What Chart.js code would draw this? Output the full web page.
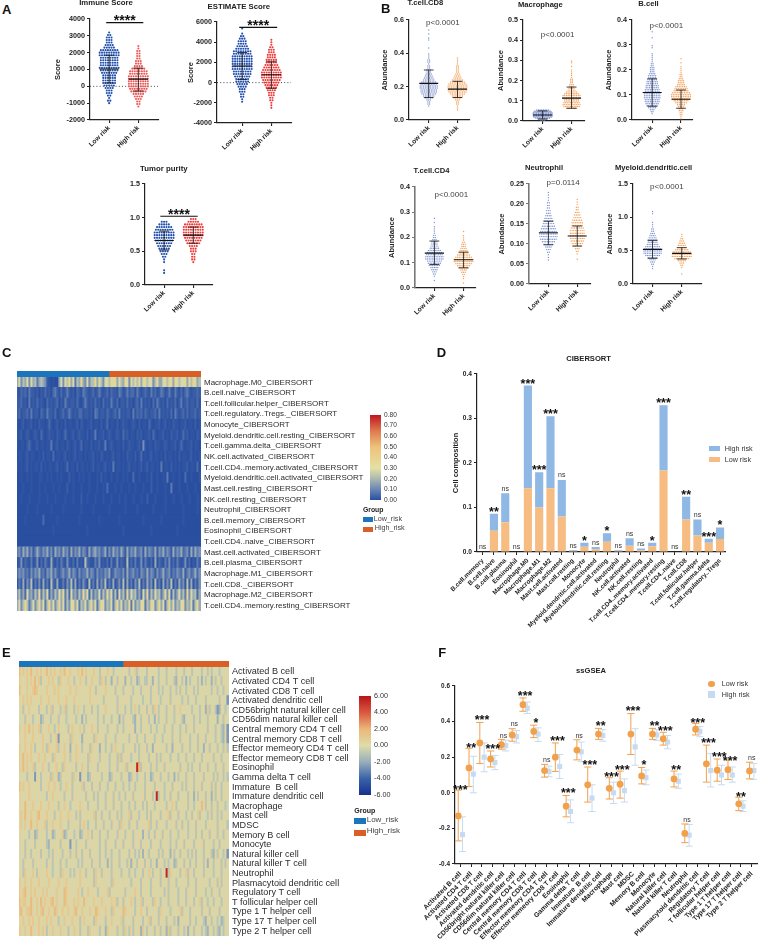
<!DOCTYPE html>
<html>
<head>
<meta charset="utf-8">
<title>Immune landscape</title>
<script src="https://cdn.jsdelivr.net/npm/chart.js@4"></script>
<style>
body{margin:0;background:#fff}
#page{position:relative;width:760px;height:942px;overflow:hidden;font-family:"Liberation Sans",Arial,sans-serif}
canvas{position:absolute}
.t{position:absolute;white-space:nowrap;line-height:1;color:#222}
.s{position:absolute}
</style>
</head>
<body>
<div id="page"></div>
<script>
const groups = ["Low risk","High risk"];

// swarm rows: how many dots sit in each value row
const immuneLow = [1,2,1,2,3,3,4,5,6,6,6,6,7,8,9,8,8,8,8,9,9,8,5,4,3,3,3,2,1];
const immuneHigh = [1,2,2,3,4,5,7,8,9,9,9,9,9,8,8,6,4,3,3,2,2,2,2,1,1];
const estimateLow = [1,1,2,2,3,3,4,5,6,6,7,8,8,9,9,9,9,9,9,8,8,6,5,4,4,3,2,1,0,1];
const estimateHigh = [1,1,1,2,2,3,3,4,5,6,7,8,9,9,9,8,7,6,5,5,4,4,3,3,2,1,1,1];
const purityLow = [1,1,0,0,1,1,2,3,4,5,6,7,8,9,9,9,8,7,5,3];
const purityHigh = [1,2,2,2,3,3,4,6,7,8,9,9,9,9,8,5,3];
const cd8Low = [1,2,2,3,5,7,9,10,10,11,11,10,9,7,6,5,4,3,3,2,2,1,2,2,1,1,1,0,0,1,0,0,0,1,1,0,1,0,1];
const cd8High = [1,1,1,2,2,3,5,7,9,11,12,12,12,11,9,7,5,4,3,2,2,2,2,1,1,1,1];
const macroLow = [3,6,9,11,12,12,12,12,12,11,10,8];
const macroHigh = [7,10,11,10,9,9,11,11,9,7,5,4,3,3,2,2,2,1,1,1,1,1,0,1,0,1,1];
const bcellLow = [1,2,3,5,7,8,9,9,10,10,10,9,9,8,8,7,7,6,5,5,4,3,3,3,2,2,1,1,1,1,1,0,0,1,1,0,0,0,1,0,0,1];
const bcellHigh = [1,1,2,2,3,3,4,5,7,9,11,12,12,11,9,8,7,5,4,4,3,2,2,1,1,1,1,0,1,0,1];
const cd4Low = [1,0,1,2,3,4,5,7,8,9,11,11,10,9,8,6,5,4,4,3,2,2,1,1,1,1,0,1,0,1];
const cd4High = [1,0,1,1,2,3,4,6,8,10,12,12,10,8,6,5,4,3,3,2,1,1,1,0,1];
const neutLow = [1,1,1,2,3,4,6,8,10,11,11,10,9,8,7,6,5,4,3,3,2,2,2,1,1,1,1];
const neutHigh = [1,0,1,2,3,5,7,8,9,9,9,9,8,7,7,6,5,4,3,2,2,1,1,1];
const myeloidLow = [1,1,2,3,4,6,9,11,11,10,9,7,6,6,5,4,3,2,2,1,1,1,0,0,0,1,1];
const myeloidHigh = [1,0,0,1,2,3,5,9,12,12,11,8,6,5,4,3,2,1,1];

// mean, lower and upper whisker of each swarm
const immuneStats = [[1030,200,1850],[430,-280,1080]];
const estimateStats = [[1650,300,2980],[770,-570,2060]];
const purityStats = [[0.66,0.52,0.8],[0.74,0.62,0.86]];
const cd8Stats = [[0.22,0.135,0.3],[0.185,0.135,0.232]];
const macroStats = [[0.03,0.01,0.05],[0.113,0.063,0.168]];
const bcellStats = [[0.11,0.055,0.165],[0.083,0.047,0.12]];
const cd4Stats = [[0.138,0.093,0.186],[0.112,0.08,0.142]];
const neutStats = [[0.128,0.098,0.157],[0.12,0.095,0.145]];
const myeloidStats = [[0.52,0.385,0.655],[0.46,0.375,0.545]];

// panel D
const dNames = ["B.cell.memory","B.cell.naive","B.cell.plasma","Eosinophil","Macrophage.M0","Macrophage.M1","Macrophage.M2","Mast.cell.activated","Mast.cell.resting","Monocyte","Myeloid.dendritic.cell.activated","Myeloid.dendritic.cell.resting","Neutrophil","NK.cell.activated","NK.cell.resting","T.cell.CD4..memory.activated","T.cell.CD4..memory.resting","T.cell.CD4..naive","T.cell.CD8","T.cell.follicular.helper","T.cell.gamma.delta","T.cell.regulatory..Tregs"];
const dLow = [0,0.048,0.067,0,0.143,0.1,0.143,0.08,0.002,0.012,0.006,0.023,0.002,0.014,0.004,0.013,0.183,0,0.073,0.037,0.021,0.029];
const dHigh = [0,0.038,0.065,0.001,0.231,0.079,0.162,0.082,0.002,0.009,0.005,0.019,0.002,0.017,0.004,0.008,0.147,0,0.051,0.036,0.009,0.026];
const dSig = ["ns","**","ns","ns","***","***","***","ns","ns","*","ns","*","ns","ns","ns","*","***","ns","**","ns","***","*"];

// panel F
const fNames = ["Activated B cell","Activated CD4 T cell","Activated CD8 T cell","Activated dendritic cell","CD56bright natural killer cell","CD56dim natural killer cell","Central memory CD4 T cell","Central memory CD8 T cell","Effector memeory CD4 T cell","Effector memeory CD8 T cell","Eosinophil","Gamma delta T cell","Immature  B cell","Immature dendritic cell","Macrophage","Mast cell","MDSC","Memory B cell","Monocyte","Natural killer cell","Natural killer T cell","Neutrophil","Plasmacytoid dendritic cell","Regulatory T cell","T follicular helper cell","Type 1 T helper cell","Type 17 T helper cell","Type 2 T helper cell"];
const fLow = [-0.13,0.14,0.28,0.19,0.27,0.325,0.495,0.345,0.125,0.2,-0.075,0.24,0.045,0.33,0.025,0.048,0.33,0.095,0.33,0.303,0.078,-0.228,0.357,0.163,0.127,0.13,-0.062,0.123];
const fLowMin = [-0.27,0.035,0.165,0.145,0.245,0.29,0.458,0.31,0.088,0.12,-0.135,0.185,-0.052,0.3,-0.035,-0.03,0.215,0.05,0.3,0.268,0.033,-0.28,0.325,0.06,0.065,0.075,-0.1,0.078];
const fLowMax = [0.015,0.25,0.395,0.235,0.3,0.36,0.533,0.38,0.16,0.28,-0.015,0.298,0.145,0.362,0.085,0.122,0.445,0.142,0.362,0.34,0.122,-0.175,0.39,0.268,0.19,0.185,-0.025,0.172];
const fHigh = [-0.235,0.105,0.2,0.17,0.265,0.315,0.475,0.33,0.12,0.148,-0.105,0.23,-0.03,0.322,0,0.012,0.258,0.085,0.325,0.285,0.065,-0.238,0.345,0.125,0.1,0.1,-0.075,0.125];
const fHighMin = [-0.33,0,0.118,0.13,0.235,0.28,0.445,0.288,0.09,0.08,-0.168,0.175,-0.105,0.29,-0.06,-0.052,0.155,0.045,0.295,0.247,0.025,-0.3,0.315,0.033,0.045,0.06,-0.105,0.075];
const fHighMax = [-0.135,0.205,0.28,0.21,0.295,0.35,0.51,0.365,0.15,0.215,-0.04,0.285,0.045,0.355,0.06,0.078,0.36,0.128,0.355,0.322,0.105,-0.178,0.372,0.22,0.155,0.145,-0.045,0.165];
const fSig = ["***","**","***","***","ns","ns","***","*","ns","***","***","ns","***","**","***","***","***","*","**","***","**","ns","***","***","***","***","**","ns"];
const fSigAt = [0.026,0.26,0.42,0.255,0.32,0.385,0.555,0.405,0.185,0.3,0.01,0.32,0.165,0.385,0.1,0.14,0.47,0.165,0.385,0.36,0.14,-0.155,0.405,0.29,0.21,0.19,-0.01,0.195];

// panel C
const cNames = ["Macrophage.M0_CIBERSORT","B.cell.naive_CIBERSORT","T.cell.follicular.helper_CIBERSORT","T.cell.regulatory..Tregs._CIBERSORT","Monocyte_CIBERSORT","Myeloid.dendritic.cell.resting_CIBERSORT","T.cell.gamma.delta_CIBERSORT","NK.cell.activated_CIBERSORT","T.cell.CD4..memory.activated_CIBERSORT","Myeloid.dendritic.cell.activated_CIBERSORT","Mast.cell.resting_CIBERSORT","NK.cell.resting_CIBERSORT","Neutrophil_CIBERSORT","B.cell.memory_CIBERSORT","Eosinophil_CIBERSORT","T.cell.CD4..naive_CIBERSORT","Mast.cell.activated_CIBERSORT","B.cell.plasma_CIBERSORT","Macrophage.M1_CIBERSORT","T.cell.CD8._CIBERSORT","Macrophage.M2_CIBERSORT","T.cell.CD4..memory.resting_CIBERSORT"];
const cLevels = [0,0.01,0.025,0.05,0.08,0.12,0.17,0.22,0.28,0.38];
// one digit per stripe, an index into cLevels, judged by eye
const cCells = [
"68576858674676521010068587968476965857796875887989687698597879689788579668978969878896979867",
"21323142212021312034213124212032143212312421231322143124233142123214231243124214213134212232",
"22312041213121031212302142122131024212131203121421302213120231412120314212031213024123122131",
"23122314122032142213012312421213312212043122132123141212204132313212231412121304212313122312",
"10120112010211013101201020110120210112011020130110201211012102011031011201201021101120110201",
"11201210121031012110210131012012110201140112012101210312011021201120310112010211201312011021",
"10110231012011011401201102101201301102011201401210110201211012051011021101210112013101120110",
"01101201100102011030110120101201101011201021010120110102110201301012011010201101020110120101",
"10101201011020101101201013011020110101201101201040110101201101201201101040110201010112011030",
"00100101000110010100101000201001010010001020100100100101003001000102001001040010010030010001",
"00010001000100100010010002001000100010001001030001001000100100010002001000100400010001000100",
"00100010000100010001000010001000200100010001000100010010001000100200010000100010001000100010",
"00000100001000000100000100000000100000100000001000000010000010000000100000100000000100000010",
"00001000000003000000100000000001000000000100000000010000000000010000000010000000000100000000",
"00000000000000000010000000000000000100000000000000000100000000000001000000000000100000000000",
"00000000000000000000000000000000000000000000000000000000000000000000000000000000000000000000",
"45364635246435463526453645263546354263564534625364536426354634526354362546354263546345263645",
"12513214125031421621314215213041217321142512130412513217131412514213061321425131421251302142",
"35453425354634254635324534635425344635425343546235443526345342543635425346345243543624534635",
"14261537142516241732612415372614253172416253714261352716241537142635172416253714263517261425",
"57463856475947583647586947385647596837465847596847385749586746385947586746958374685749586736",
"68579746857968479685796847589684768579684798576847968576948576894769857968479685768957684796"];

// panel E
const eNames = ["Activated B cell","Activated CD4 T cell","Activated CD8 T cell","Activated dendritic cell","CD56bright natural killer cell","CD56dim natural killer cell","Central memory CD4 T cell","Central memory CD8 T cell","Effector memeory CD4 T cell","Effector memeory CD8 T cell","Eosinophil","Gamma delta T cell","Immature  B cell","Immature dendritic cell","Macrophage","Mast cell","MDSC","Memory B cell","Monocyte","Natural killer cell","Natural killer T cell","Neutrophil","Plasmacytoid dendritic cell","Regulatory T cell","T follicular helper cell","Type 1 T helper cell","Type 17 T helper cell","Type 2 T helper cell"];
const eLevels = [-4.2,-3.4,-2.6,-1.8,-1,-0.2,0.4,1,1.8,5.5];
const eCells = [
"86757686576756857675675866756576857565765465675645655656465745655466565456545655465645654565545645465545556",
"76567576857465675765476567564567654657565476465365465636546534654465365465546564365463545654635465364654665",
"86657567876565765676756566756756565676546565765564565465654565465654656454655465464654565464565565456455465",
"66757675665756675665765675657656565576565654656565465656546565545654656546556465565456455645565465555646552",
"56465756564665457465645746564575546564654565756556465645545754656465476456546564657565564565465374564236545",
"55646564556346554656456545656455364565564564556455635465654365465645536456546554656435565465455645655365465",
"75676857567465675645756564675657546567564656546565465465656355465654654565465646554654656465565646554654362",
"65676567656576564567265656475656356565476565465654565565465645654656545654656546564656545564656456554654362",
"76576675465675476567456756365765465647565365465467565465656454656465365656546536565465645564653564565465464",
"76857675657567565475656756465765565476565465654565474656545654656546564546565465546564655465645656546564556",
"75867567456576546567564756565465756465654656554656456574656598465654654656465565654656454565465645654656456",
"65564565256456564756346565647562565346565645653465564565346545654653465645654653645654656456564656546456454",
"86756756565465675675645675646565745654656456546564565465456455654656546565456546565464565465646556464654566",
"66565765656565465756565465646565564656454655465646546546564655664656459465456465645565465364656465364654656",
"65686567565765675656465765456567565465564565465646564565465465645465645656546576456565465456586465456465545",
"67586576578656765646576567565464656565746545654656464565746564565464656546567465646554654657465546465464565",
"67575686576567465765675654656564675456546564565465647565465645656574654656545656456465465646565456565465654",
"56565456346565456346567345654563456754656456546565465645654656536546546564656456546565456546546564656465465",
"65645656465656436565646565256456654656565465465654656465654656465654656546565465465646565465664655646546556",
"55646545656456545465654656456465465646565465465456546556465454636546556464565364654656454646554656436465462",
"65465654656565465456546545656545465654656456536465645654636546564654653656454653465646546546564636546564546",
"65476567546565765456547656454657564565475646565465654565465456546575465646594765654657465465654656545654656",
"76576576567656576565765675656567565656475656565475656556546565465654656546564656456565465646565654656464656",
"76786576765675756567565876565675465765654656574656565646565765465654656565464656545654656546565465465646556",
"86776586576857667857565876567576586565766576565767456465675465746565476545654656546564565465746545645654566",
"78657786575785676587567657657865756576587656756476565875656465765465656476565465657465645656546564656546565",
"66756767567656757656465756576564675656476565465756567456564656546574656465645654635656546545654365465453465",
"76575686567576456756575654657564565476565465376565465475464656375465645646537465646546356465645436546435465"];

const cStops = [[0,"#2a4fa0"],[0.1,"#6a86b5"],[0.2,"#aab8b0"],[0.3,"#e3e1a5"],[0.5,"#eec27a"],[0.65,"#dd7a4e"],[0.8,"#c0151f"]];
const eStops = [[-6,"#15318f"],[-4,"#3a63a9"],[-2,"#98aebc"],[0,"#dedcaa"],[2,"#ecb678"],[4,"#d9583f"],[6,"#b81419"]];
const cColSizes = [46,46];
const eColSizes = [52,53];
const lowBlue = "#1b75bc", highOrange = "#d95f27";

const FONT = '"Liberation Sans", Arial, sans-serif';
const INK = "#222";
const page = document.getElementById("page");
const bold = s => ({family:FONT,size:s,weight:"bold"});
const plain = s => ({family:FONT,size:s,weight:"normal"});

Chart.defaults.animation = false;
Chart.defaults.events = [];
Chart.defaults.plugins.legend.display = false;
Chart.defaults.plugins.tooltip.enabled = false;

// text pinned to data coordinates
Chart.register({
  id:"notes",
  afterDatasetsDraw(chart,args,opts){
    const xs = chart.scales.x, ys = chart.scales.y, c = chart.ctx;
    (opts.items||[]).forEach(n=>{
      c.save();
      c.font = `${n.weight||"normal"} ${n.size}px ${FONT}`;
      c.fillStyle = n.color||INK;
      c.textAlign = "center";
      c.textBaseline = "middle";
      c.fillText(n.text, xs.getPixelForValue(n.x), ys.getPixelForValue(n.y)+(n.dy||0));
      c.restore();
    });
  }
});

function text(str,x,y,size,opt={}){
  const d = document.createElement("div");
  d.className = "t";
  d.textContent = str;
  d.style.left = x+"px";
  d.style.top = (y-size/2)+"px";
  d.style.fontSize = size+"px";
  if(opt.bold) d.style.fontWeight = "bold";
  if(opt.color) d.style.color = opt.color;
  page.appendChild(d);
}
function swatch(x,y,w,h,color,round){
  const d = document.createElement("div");
  d.className = "s";
  d.style.cssText = `left:${x}px;top:${y}px;width:${w}px;height:${h}px;background:${color};${round?"border-radius:50%":""}`;
  page.appendChild(d);
}

// box = plot rectangle in page pixels; canvas margins are worked out so the plot lands there.
// chart.js clips tick labels to the scale box, so the axes take the whole margin
function place(box,cfg){
  const ml = 70, mt = 42, mb = box.mb??110;
  const yW = box.yW??0;
  const mr = box.cx!=null ? Math.max(0,2*box.cx-(box.l-yW)-box.r) : (box.mr??10);
  const xH = box.hasX?mb:0, rW = box.hasRight?mr:0;
  const cv = document.createElement("canvas");
  cv.width = Math.round(box.r-box.l+ml+mr);
  cv.height = Math.round(box.b-box.t+mt+mb);
  cv.style.left = (box.l-ml)+"px";
  cv.style.top = (box.t-mt)+"px";
  page.appendChild(cv);
  let top = mt;
  const plugins = cfg.options.plugins = cfg.options.plugins||{};
  if(box.title){
    const pad = box.t-box.ty-0.6*box.tsize;
    plugins.title = {display:true,text:box.title,color:INK,font:bold(box.tsize),padding:{top:0,bottom:pad}};
    top = mt-(1.2*box.tsize+pad);
  }
  cfg.options.responsive = false;
  cfg.options.layout = {padding:{left:ml-yW,right:mr-rW,top:top,bottom:mb-xH}};
  const sc = cfg.options.scales||{};
  if(sc.x) sc.x.afterFit = s=>{s.height=xH;s.paddingLeft=0;s.paddingRight=0;};
  if(sc.y) sc.y.afterFit = s=>{s.width=box.yW?yW:rW;s.paddingTop=0;s.paddingBottom=0;};
  return new Chart(cv,cfg);
}

const seg = (x0,y0,x1,y1,color,width,dash) => ({type:"scatter",showLine:true,data:[{x:x0,y:y0},{x:x1,y:y1}],borderColor:color,borderWidth:width,borderDash:dash||[],pointRadius:0,parsing:false});

function whisker(g,st,color,width,capW,meanW){
  const out = [];
  if(meanW) out.push(seg(g-meanW,st[0],g+meanW,st[0],color,width+0.3));
  out.push(seg(g,st[1],g,st[2],color,width));
  out.push(seg(g-capW,st[1],g+capW,st[1],color,width));
  out.push(seg(g-capW,st[2],g+capW,st[2],color,width));
  return out;
}
function swarm(counts,from,step,g,dx){
  const pts = [];
  counts.forEach((n,i)=>{
    for(let k=0;k<n;k++) pts.push({x:g+(k-(n-1)/2)*dx,y:from+i*step});
  });
  return pts;
}
function yAxis(min,max,step,dec,title,tickSize,axisColor,axisW){
  return {
    min,max,
    ticks:{stepSize:step,color:INK,font:bold(tickSize),padding:2,callback:v=>Number(v).toFixed(dec)},
    grid:{drawOnChartArea:false,color:axisColor||INK,lineWidth:1.1,tickLength:3},
    border:{color:axisColor||INK,width:axisW||1.2},
    title:title?{display:true,text:title,color:INK,font:bold(7.5),padding:0}:{display:false}
  };
}
function swarmPanel(p){
  const span = p.g1-p.g0;
  const dots = [
    {type:"scatter",data:swarm(p.low,p.lowFrom,p.yStep,0,p.dotPx/span),backgroundColor:p.colors[0],borderWidth:0,pointRadius:p.dotR},
    {type:"scatter",data:swarm(p.high,p.highFrom,p.yStepHigh??p.yStep,1,p.dotPx/span),backgroundColor:p.colors[1],borderWidth:0,pointRadius:p.dotR}
  ];
  const lines = [...whisker(0,p.stats[0],"#111",0.8,0.17,0.33),...whisker(1,p.stats[1],"#111",0.8,0.17,0.33)];
  if(p.sig) lines.push(seg(p.sig.from,p.sig.y,p.sig.to,p.sig.y,"#111",1.1));
  const back = p.zero ? [seg((p.l-p.g0)/span,0,(p.r-p.g0)/span,0,"#333",0.9,[1,2.2])] : [];
  const items = [];
  if(p.sig) items.push({x:(p.sig.from+p.sig.to)/2,y:p.sig.starY,text:"****",size:14,weight:"bold",color:"#111",dy:2.8});
  if(p.note) items.push({x:p.note.x,y:p.note.y,text:p.note.text,size:8,color:"#444"});
  const titleX = p.titleX;
  place({l:p.l,t:p.t,r:p.r,b:p.b,yW:titleX!=null?p.l-titleX+4.5:30,hasX:true,title:p.title,ty:p.ty,tsize:p.tsize||7.6,cx:p.cx,mb:60},{
    type:"scatter",
    data:{datasets:[...lines,...dots,...back]},
    options:{
      plugins:{notes:{items}},
      scales:{
        x:{type:"linear",min:(p.l-p.g0)/span,max:(p.r-p.g0)/span,
          afterBuildTicks:s=>{s.ticks=groups.map((_,i)=>({value:i}));},
          ticks:{autoSkip:false,minRotation:45,maxRotation:45,padding:1,color:INK,font:bold(6.6),callback:v=>groups[v]},
          grid:{drawOnChartArea:false,color:INK,lineWidth:1.1,tickLength:3},
          border:{color:INK,width:1.2}},
        y:yAxis(p.min,p.max,p.step,p.dec,p.yTitle,7.2,p.axisColor,p.axisW)
      }
    }
  });
}

function rampColor(stops,v){
  let i = 0;
  while(i<stops.length-2 && v>stops[i+1][0]) i++;
  const [a,ca] = stops[i], [b,cb] = stops[i+1];
  const t = Math.min(1,Math.max(0,(v-a)/(b-a)));
  const hex = (c,k)=>parseInt(c.substr(1+2*k,2),16);
  const mix = k=>Math.round(hex(ca,k)+(hex(cb,k)-hex(ca,k))*t);
  return `rgb(${mix(0)},${mix(1)},${mix(2)})`;
}
function heatmap(box,names,rows,levels,stops,fontSize){
  const cols = Math.max(...rows.map(r=>r.length));
  const data = [], colors = [];
  rows.forEach((r,ri)=>{
    r.padEnd(cols,r[0]).split("").forEach((d,ci)=>{
      data.push({x:[ci,ci+1],y:names[ri]});
      colors.push(rampColor(stops,levels[+d]));
    });
  });
  place({...box,hasRight:true,mr:190,mb:6},{
    type:"bar",
    data:{labels:names,datasets:[{data,backgroundColor:colors,borderWidth:0,barPercentage:1,categoryPercentage:1,inflateAmount:0.6}]},
    options:{
      indexAxis:"y",
      scales:{
        x:{type:"linear",display:false,min:0,max:cols},
        y:{type:"category",position:"right",labels:names,border:{display:false},
          grid:{display:false,drawTicks:false},ticks:{autoSkip:false,padding:3,color:"#2c2c2c",font:plain(fontSize)}}
      }
    }
  });
}
function annotationBar(box,sizes){
  place({...box,mb:4},{
    type:"bar",
    data:{labels:["Group"],datasets:[
      {data:[sizes[0]],backgroundColor:lowBlue,barPercentage:1,categoryPercentage:1},
      {data:[sizes[1]],backgroundColor:highOrange,barPercentage:1,categoryPercentage:1}]},
    options:{indexAxis:"y",scales:{
      x:{type:"linear",display:false,stacked:true,min:0,max:sizes[0]+sizes[1]},
      y:{display:false,stacked:true}}}
  });
}
function colorBar(box,min,max,step,dec,stops,size){
  place({...box,hasRight:true,mr:40,mb:6},{
    type:"bar",
    data:{labels:[""],datasets:[{data:[[min,max]],barPercentage:1,categoryPercentage:1,borderWidth:0,
      backgroundColor:ctx=>{
        const a = ctx.chart.chartArea;
        if(!a) return "#888";
        const g = ctx.chart.ctx.createLinearGradient(0,a.bottom,0,a.top);
        stops.forEach(s=>g.addColorStop((s[0]-min)/(max-min),s[1]));
        return g;
      }}]},
    options:{scales:{
      x:{display:false},
      y:{position:"right",min,max,border:{display:false},grid:{display:false,drawTicks:false},
        ticks:{autoSkip:false,stepSize:step,padding:3,color:"#333",font:plain(size),callback:v=>Number(v).toFixed(dec)}}
    }}
  });
}

// ---- A ----
const redA = "#ee3b3b", blueA = "#2250ae";
const aDefaults = {dotPx:2.35,dotR:1.05,tsize:7.8};
swarmPanel({...aDefaults,l:90,r:158,t:18.7,b:119.3,g0:109,g1:138,min:-2000,max:4000,step:1000,dec:0,low:immuneLow,lowFrom:-1000,high:immuneHigh,highFrom:-1200,yStep:150,colors:[blueA,"#ee5a5a"],stats:immuneStats,zero:true,
  sig:{from:-0.1,to:1.17,y:3785,starY:4024},title:"Immune Score",ty:3,cx:124,yTitle:"Score",titleX:58});
swarmPanel({...aDefaults,l:217,r:290.7,t:22.3,b:123.7,g0:242,g1:271,min:-4000,max:6000,step:2000,dec:0,low:estimateLow,lowFrom:-1900,high:estimateHigh,highFrom:-2500,yStep:250,colors:[blueA,redA],stats:estimateStats,zero:true,
  sig:{from:-0.1,to:1.2,y:5467,starY:5832},title:"ESTIMATE Score",ty:7.3,cx:256,yTitle:"Score",titleX:191});
swarmPanel({...aDefaults,l:144.7,r:212,t:184,b:285.3,g0:163.7,g1:192.7,min:0,max:1.5,step:0.5,dec:1,low:purityLow,lowFrom:0.18,high:purityHigh,highFrom:0.34,yStep:0.04,colors:[blueA,redA],stats:purityStats,
  sig:{from:-0.13,to:1.15,y:1.02,starY:1.075},title:"Tumor purity",ty:169,cx:178});

// ---- B ----
const blueB = "#8296d2", orangeB = "#f5a25a";
const bDefaults = {dotPx:1.7,dotR:0.7,colors:[blueB,orangeB],yTitle:"Abundance",tsize:7.6};
swarmPanel({...bDefaults,l:409.3,r:470,t:20,b:120.3,g0:429,g1:457.7,min:0,max:0.6,step:0.2,dec:1,low:cd8Low,lowFrom:0.084,high:cd8High,highFrom:0.06,yStep:0.012,stats:cd8Stats,title:"T.cell.CD8",ty:3.3,cx:442.7,titleX:385.7,note:{x:0.49,y:0.584,text:"p<0.0001"}});
swarmPanel({...bDefaults,l:523.3,r:585,t:20,b:121,g0:543,g1:572,min:0,max:0.5,step:0.1,dec:1,low:macroLow,lowFrom:0.005,high:macroHigh,highFrom:0.063,yStep:0.0045,yStepHigh:0.009,stats:macroStats,title:"Macrophage",ty:4.7,cx:558,titleX:501,note:{x:0.52,y:0.426,text:"p<0.0001"}});
swarmPanel({...bDefaults,l:631.7,r:691.7,t:20,b:120.3,g0:651.7,g1:680.3,min:0,max:0.4,step:0.1,dec:1,low:bcellLow,lowFrom:0.025,high:bcellHigh,highFrom:0.005,yStep:0.008,stats:bcellStats,title:"B.cell",ty:4,cx:665.7,titleX:608.7,note:{x:0.49,y:0.377,text:"p<0.0001"}});
swarmPanel({...bDefaults,l:414.7,r:475,t:186.7,b:287.3,g0:434,g1:463,min:0,max:0.4,step:0.1,dec:1,low:cd4Low,lowFrom:0.03,high:cd4High,highFrom:0.02,yStep:0.0085,stats:cd4Stats,title:"T.cell.CD4",ty:171,cx:448.3,titleX:391.7,axisColor:"#777",axisW:1.6,note:{x:0.58,y:0.368,text:"p<0.0001"}});
swarmPanel({...bDefaults,l:528.7,r:590,t:184,b:284.3,g0:548,g1:576.7,min:0,max:0.25,step:0.05,dec:2,low:neutLow,lowFrom:0.06,high:neutHigh,highFrom:0.062,yStep:0.0065,stats:neutStats,title:"Neutrophil",ty:168.3,cx:562.3,titleX:501.7,axisColor:"#777",axisW:1.6,note:{x:0.51,y:0.253,text:"p=0.0114"}});
swarmPanel({...bDefaults,l:633.3,r:701,t:184,b:284.3,g0:652.7,g1:681.7,min:0,max:1.5,step:0.5,dec:1,low:myeloidLow,lowFrom:0.23,high:myeloidHigh,highFrom:0.15,yStep:0.033,stats:myeloidStats,title:"Myeloid.dendritic.cell",ty:168,cx:667,titleX:610.7,note:{x:0.49,y:1.46,text:"p<0.0001"}});

// ---- C ----
annotationBar({l:17.3,r:201.3,t:371.3,b:377.3},cColSizes);
heatmap({l:17.3,r:201.3,t:377,b:611.3},cNames,cCells,cLevels,cStops,8);
colorBar({l:369.7,r:380.7,t:415,b:500},0,0.8,0.1,2,cStops,6.6);
text("Group",363,510.7,6.8,{bold:true});
swatch(363,516.7,10,5.3,lowBlue);
swatch(363,526.7,10,5.3,highOrange);
text("Low_risk",373.7,518.3,7.2,{color:"#444"});
text("High_risk",374.7,528,7.2,{color:"#444"});

// ---- D ----
{
  const items = dNames.map((n,i)=>{
    const top = dLow[i]+dHigh[i];
    return dSig[i]==="ns"
      ? {x:i,y:top+0.01,text:"ns",size:7,color:"#333"}
      : {x:i,y:top+0.009,text:dSig[i],size:12.5,weight:"bold",color:"#111",dy:2.5};
  });
  place({l:477.3,r:726.5,t:374.3,b:552.7,yW:477.3-456.3+4.5,hasX:true,title:"CIBERSORT",ty:359.7,tsize:7.6,cx:602.3},{
    type:"bar",
    data:{labels:dNames,datasets:[
      {label:"Low risk",data:dLow,backgroundColor:"#f6bc82",barPercentage:0.72,categoryPercentage:1,stack:"a"},
      {label:"High risk",data:dHigh,backgroundColor:"#8fb8e5",barPercentage:0.72,categoryPercentage:1,stack:"a"}]},
    options:{
      plugins:{notes:{items}},
      scales:{
        x:{stacked:true,grid:{drawOnChartArea:false,offset:false,color:INK,lineWidth:1,tickLength:3},border:{color:INK,width:1.2},
          ticks:{autoSkip:false,minRotation:45,maxRotation:45,padding:2,color:INK,font:bold(6.4)}},
        y:{...yAxis(0,0.4,0.1,1,"Cell composition",6.6),stacked:true}
      }
    }
  });
}
swatch(709.3,446,10.7,5,"#8fb8e5");
swatch(709.3,456.7,10.7,5,"#f6bc82");
text("High risk",724.7,449,7.2,{color:"#333"});
text("Low risk",724.7,459.3,7.2,{color:"#333"});

// ---- E ----
annotationBar({l:19,r:229.3,t:660.7,b:667},eColSizes);
heatmap({l:19,r:229.3,t:667.3,b:936},eNames,eCells,eLevels,eStops,9.1);
colorBar({l:359,r:371,t:696,b:794.5},-6,6,2,2,eStops,7.2);
text("Group",354.3,810.3,7,{bold:true});
swatch(354.3,818,11.7,6,lowBlue);
swatch(354.3,830,11.7,6,highOrange);
text("Low_risk",366.7,820,8,{color:"#444"});
text("High_risk",366.7,831.3,8,{color:"#444"});

// ---- F ----
{
  const dx = 0.2, lowColor = "#f2a04a", highColor = "#c6dbf1";
  const sets = [];
  const lowPts = fLow.map((v,i)=>({x:i-dx,y:v}));
  const highPts = fHigh.map((v,i)=>({x:i+dx,y:v}));
  sets.push({type:"scatter",data:lowPts,backgroundColor:lowColor,borderWidth:0,pointRadius:3.4});
  fNames.forEach((n,i)=>sets.push(...whisker(i-dx,[fLow[i],fLowMin[i],fLowMax[i]],lowColor,1,0.33)));
  sets.push({type:"scatter",data:highPts,backgroundColor:highColor,borderWidth:0,pointRadius:3.6,pointStyle:"rect"});
  fNames.forEach((n,i)=>sets.push(...whisker(i+dx,[fHigh[i],fHighMin[i],fHighMax[i]],highColor,1,0.33)));
  const items = fNames.map((n,i)=> fSig[i]==="ns"
    ? {x:i,y:fSigAt[i],text:"ns",size:7,color:"#333"}
    : {x:i,y:fSigAt[i],text:fSig[i],size:12.5,weight:"bold",color:"#111",dy:2.5});
  place({l:455,r:757.5,t:686.3,b:864.7,yW:30,hasX:true,title:"ssGSEA",ty:671.7,tsize:7.6,cx:606.7,mb:90},{
    type:"scatter",
    data:{datasets:sets},
    options:{
      plugins:{notes:{items}},
      scales:{
        x:{type:"linear",min:-0.5,max:27.5,
          afterBuildTicks:s=>{s.ticks=fNames.map((_,i)=>({value:i}));},
          ticks:{autoSkip:false,minRotation:45,maxRotation:45,padding:3,color:INK,font:bold(6.8),callback:v=>fNames[v]},
          grid:{drawOnChartArea:false,color:INK,lineWidth:1,tickLength:3},
          border:{color:INK,width:1.2}},
        y:yAxis(-0.4,0.6,0.2,1,null,6.4)
      }
    }
  });
}
swatch(708.3,680.6,6.8,6.8,"#f2a04a",true);
swatch(708.3,691,6.8,6.8,"#c6dbf1");
text("Low risk",721.7,684,7.2,{color:"#333"});
text("High risk",721.7,694.5,7.2,{color:"#333"});

// panel letters
text("A",2,9,13,{bold:true,color:"#111"});
text("B",381,8,13,{bold:true,color:"#111"});
text("C",2,352,13,{bold:true,color:"#111"});
text("D",436.7,352,13,{bold:true,color:"#111"});
text("E",2,652.7,13,{bold:true,color:"#111"});
text("F",438.3,652.7,13,{bold:true,color:"#111"});
</script>
</body>
</html>
